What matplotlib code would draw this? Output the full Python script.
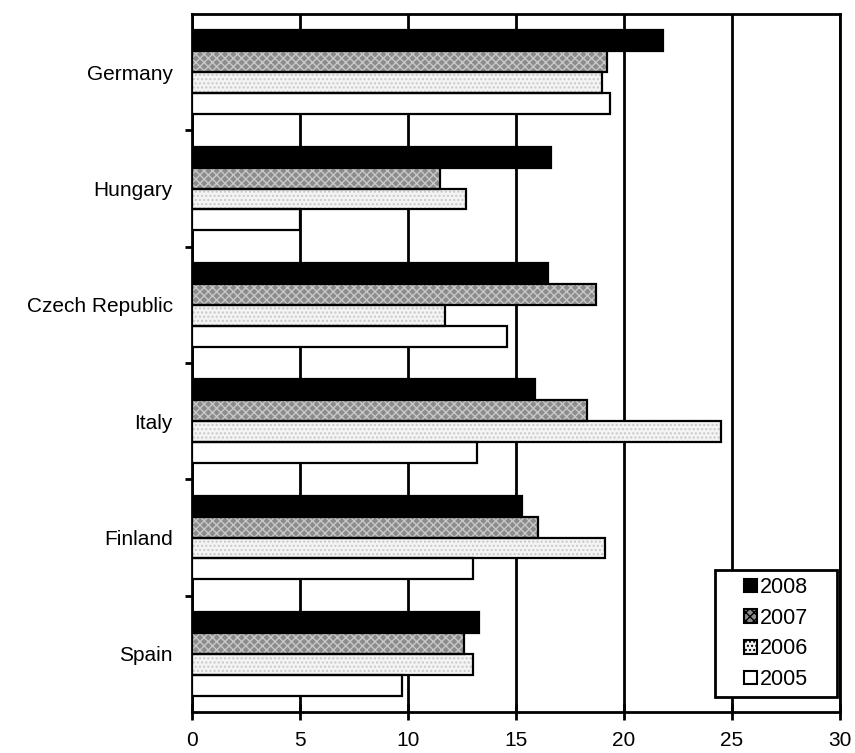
import matplotlib.pyplot as plt
from matplotlib.patches import Patch, Rectangle
import numpy as np

plt.rcParams["font.family"] = ["Liberation Sans", "DejaVu Sans"]

countries = ["Germany", "Hungary", "Czech Republic", "Italy", "Finland", "Spain"]
years = ["2008", "2007", "2006", "2005"]
v2008 = [21.8, 16.6, 16.5, 15.9, 15.3, 13.3]
v2007 = [19.2, 11.5, 18.7, 18.3, 16.0, 12.6]
v2006 = [19.0, 12.7, 11.7, 24.5, 19.1, 13.0]
v2005 = [19.35, 5.0, 14.6, 13.2, 13.0, 9.7]
series = [v2008, v2007, v2006, v2005]

faces = ["#000000", "#8c8c8c", "#f4f4f4", "#ffffff"]
hatches = [None, "xxxx", "....", None]

fig = plt.figure(figsize=(8.55, 7.53), dpi=100, facecolor="white")
ax = fig.add_axes([192 / 855, 1 - 712 / 753, 648 / 855, 698 / 753])

y = np.arange(len(countries))
bar_h = 0.18
group_w = bar_h * len(series)

for k, (vals, fc, hatch) in enumerate(zip(series, faces, hatches)):
    pos = y - group_w / 2 + bar_h * (k + 0.5)
    if hatch:
        ax.barh(pos, vals, height=bar_h, color=fc, edgecolor="#c8c8c8",
                hatch=hatch, linewidth=0, zorder=3)
        ax.barh(pos, vals, height=bar_h, color="none", edgecolor="black",
                linewidth=1.6, zorder=4)
    else:
        ax.barh(pos, vals, height=bar_h, color=fc, edgecolor="black",
                linewidth=1.6, zorder=3)

ax.set_xlim(0, 30)
ax.set_ylim(len(countries) - 0.5, -0.5)
ax.set_xticks(range(0, 31, 5))
ax.set_xticklabels([str(t) for t in range(0, 31, 5)], fontsize=15)
ax.set_yticks(y)
ax.set_yticklabels(countries, fontsize=15)
ax.set_yticks(np.arange(0.5, len(countries) - 0.5, 1), minor=True)
ax.tick_params(axis="y", which="major", length=0, pad=14)
ax.tick_params(axis="y", which="minor", length=5, width=2, direction="out")
ax.tick_params(axis="x", length=12, width=2, direction="inout", pad=8)

ax.grid(axis="x", color="black", linewidth=2, zorder=1)
ax.set_axisbelow(True)
for s in ax.spines.values():
    s.set_linewidth(2)
    s.set_color("black")

# legend frame drawn separately so it can be wider than its contents
x0, x1 = (715 - 192) / 648, (837 - 192) / 648
y0, y1 = (712 - 697) / 698, (712 - 570) / 698
ax.add_patch(Rectangle((x0, y0), x1 - x0, y1 - y0, transform=ax.transAxes,
                       facecolor="white", edgecolor="black", linewidth=2,
                       zorder=5))
handles = [Patch(facecolor=fc, edgecolor="black", hatch=h, linewidth=1.5)
           for fc, h in zip(faces, hatches)]
leg = ax.legend(handles, years, loc="center",
                bbox_to_anchor=((x0 + x1) / 2, (y0 + y1) / 2), fontsize=15.5,
                handlelength=0.6, handleheight=0.6, handletextpad=0.15,
                labelspacing=0.45, borderpad=0.2, frameon=False)
leg.set_zorder(6)

fig.savefig("out.png", dpi=100)
